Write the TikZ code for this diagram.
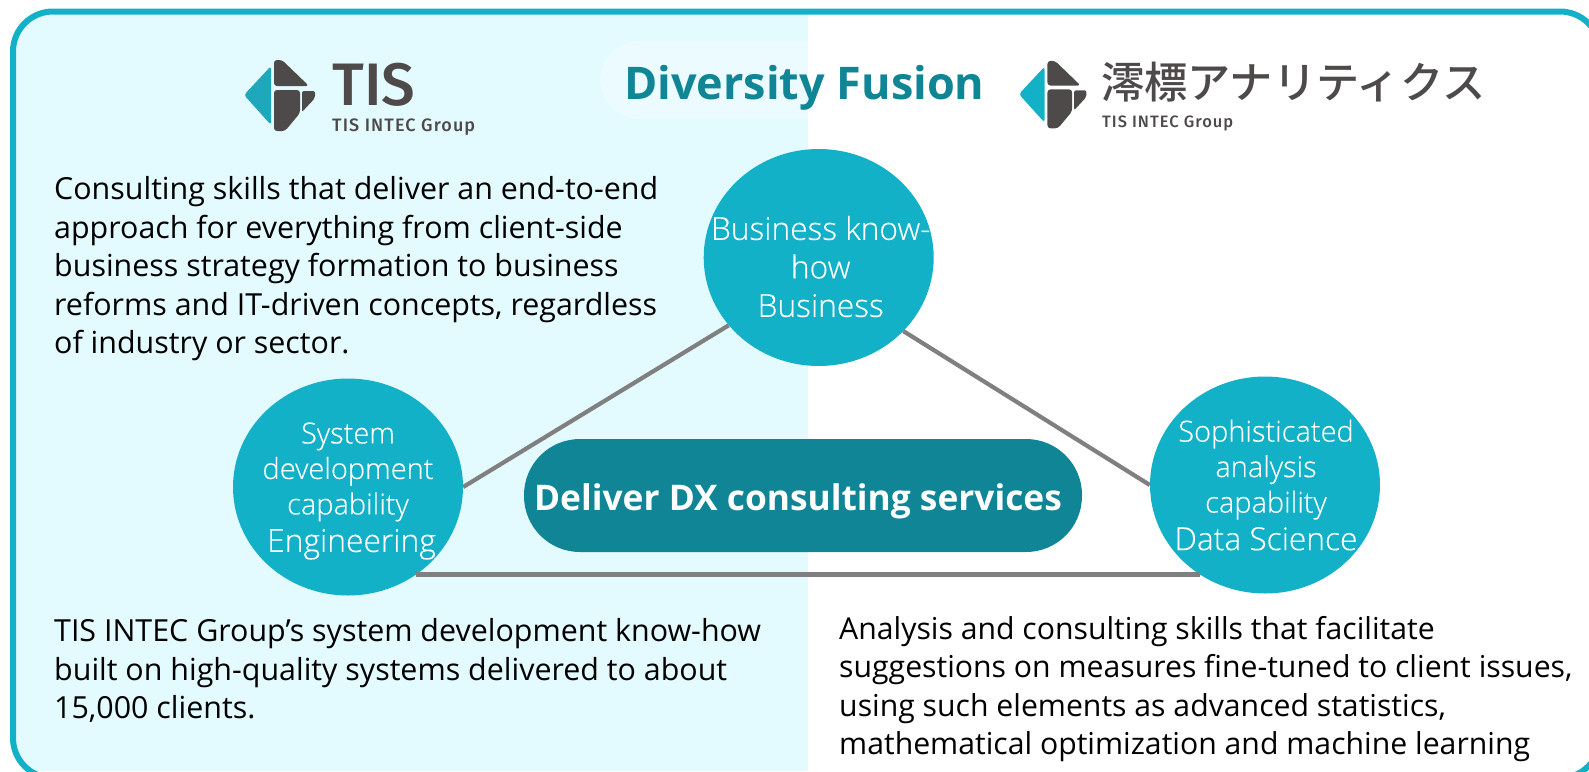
\documentclass[tikz,border=0pt]{standalone}
\usepackage{fontspec}
\usepackage{xcolor}
\setmainfont{Open Sans}
\newfontfamily\lightfont[UprightFont=* Light, FakeBold=.25]{Open Sans}
\newfontfamily\logofont[UprightFont=* Medium, LetterSpace=6]{Fira Sans}
\newfontfamily\logobigfont[UprightFont=* Medium]{Fira Sans}
\newfontfamily\cjkfont[UprightFont=* Medium]{Noto Sans CJK JP}
\usetikzlibrary{shapes.geometric}
\definecolor{panelblue}{HTML}{E3FAFF}
\definecolor{ringteal}{HTML}{13B1C8}
\definecolor{deepteal}{HTML}{0F8596}
\definecolor{tisteal}{HTML}{1FA8BC}
\definecolor{logogray}{HTML}{4E4A4A}
\tikzset{
  logomark/.pic={
    \fill[#1, rounded corners=3] (-2,-22) -- (-29,7) -- (-2,37) -- cycle;
    \fill[logogray, rounded corners=3] (1,-28) -- (9,-28) -- (36,-2) -- (1,-2) -- cycle;
    \fill[logogray, rounded corners=3] (1,2) -- (27,2) -- (27,25) -- (12,43) -- (1,43) -- cycle;
    \fill[logogray, rounded corners=2] (29,3) -- (42,3) -- (42,10) -- (29,24) -- cycle;
  }
}
\begin{document}
\begin{tikzpicture}[x=1pt, y=-1pt,
  bubble/.style={ellipse, fill=ringteal, inner sep=0, minimum width=230pt, minimum height=217pt},
  bubbletext/.style={align=center, text=white, inner sep=0, font=\lightfont\fontsize{29}{35.5}\selectfont},
  bodytext/.style={anchor=north west, align=left, inner sep=0, text=black, font=\fontsize{30.4}{38.5}\selectfont},
  linkline/.style={draw=gray, line width=4.2pt}
]
\useasboundingbox (0,0) rectangle (1589,771);
\clip (0,0) rectangle (1589,771);

\begin{scope}
\clip[rounded corners=40] (13,11.5) rectangle (1600,778);
\fill[panelblue] (0,0) rectangle (808,771);
\end{scope}
\fill[white, opacity=.3, rounded corners=39] (600,41) rectangle (1000,119);
\draw[ringteal, line width=6pt, rounded corners=40] (13,11.5) rectangle (1600,778);

\pic at (273,88) {logomark=tisteal};
\pic[scale=.95] at (1046.5,87.5) {logomark=ringteal};

\node[anchor=base west, inner sep=0, text=logogray, font=\logobigfont\fontsize{60}{60}\selectfont] (tisname) at (332,105) {TIS};
\node[anchor=base west, inner sep=0, text=logogray, font=\logofont\fontsize{18}{20}\selectfont] (tisgroup) at (332,131) {TIS INTEC Group};
\node[anchor=base west, inner sep=0, text=logogray, font=\cjkfont\fontsize{43.2}{43}\selectfont] (miotitle) at (1101,98) {澪標アナリティクス};
\node[anchor=base west, inner sep=0, text=logogray, font=\logofont\fontsize{16.5}{20}\selectfont] (miogroup) at (1102,127) {TIS INTEC Group};

\node[anchor=base west, inner sep=0, text=deepteal, font=\bfseries\fontsize{45}{45}\selectfont] (fusion) at (624,99) {Diversity Fusion};

\node[bodytext] (tisskills) at (54,176.5) {Consulting skills that deliver an end-to-end\\approach for everything from client-side\\business strategy formation to business\\reforms and IT-driven concepts, regardless\\of industry or sector.};
\node[bodytext] (tissystems) at (54,618.5) {TIS INTEC Group’s system development know-how\\built on high-quality systems delivered to about\\15,000 clients.};
\node[bodytext, font=\fontsize{30.2}{38.5}\selectfont] (mioskills) at (839,616) {Analysis and consulting skills that facilitate\\suggestions on measures fine-tuned to client issues,\\using such elements as advanced statistics,\\mathematical optimization and machine learning};

\node[bubble, label={[bubbletext, xshift=2pt, yshift=-9pt, font=\lightfont\fontsize{31.7}{38.5}\selectfont]center:{Business know-\\how\\Business}}] (knowhow) at (818.7,257.5) {};
\node[bubble, label={[bubbletext, yshift=-4pt]center:{System\\development\\capability\\[2pt]\hspace*{7pt}\fontsize{31.8}{37}\selectfont Engineering}}] (engineering) at (348,487) {};
\node[bubble, label={[bubbletext, xshift=1pt]center:{Sophisticated\\analysis\\capability\\[2pt]\fontsize{31.7}{37}\selectfont Data Science}}] (science) at (1265,485) {};

\draw[linkline] (engineering.0) -- (knowhow.217.5);
\draw[linkline] (knowhow.-41.5) -- (science.180);
\draw[linkline] (engineering.-52.35) -- (engineering.-52.35 -| science.234.75);

\node[fill=deepteal, rounded corners=56pt, minimum width=558pt, minimum height=113pt, inner sep=0, label={[text=white, inner sep=0, xshift=-5pt, yshift=-6pt, font=\bfseries\fontsize{35.3}{36}\selectfont]center:Deliver DX consulting services}] (consulting) at (803,495.5) {};

\end{tikzpicture}
\end{document}
